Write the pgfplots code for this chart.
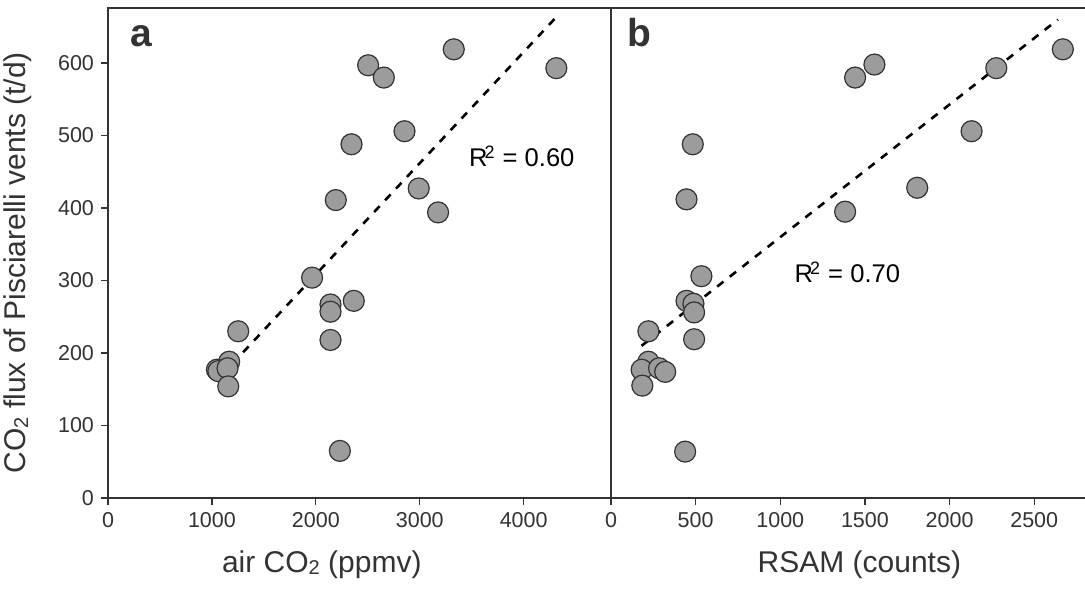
\documentclass[border=0pt]{standalone}
\usepackage{fontspec}
\setmainfont{Liberation Sans}
\usepackage{pgfplots}
\pgfplotsset{compat=1.18}

\definecolor{ink}{HTML}{333333}
\definecolor{dotfill}{HTML}{9C9C9C}
\newcommand{\two}{\raisebox{-0.15ex}{\fontsize{10}{10}\selectfont 2}}

\pgfplotsset{
  panel/.style={
    scale only axis, height=245pt, ymin=0, ymax=676,
    ytick={0,100,...,600},
    tick align=outside, major tick length=3.5pt,
    tick style={ink, line width=0.6pt},
    axis line style={ink, line width=0.8pt},
    ticklabel style={font=\fontsize{10.75}{12}\selectfont, text=ink},
    /pgf/number format/assume math mode=true,
    /pgf/number format/1000 sep={},
    label style={font=\fontsize{15}{18}\selectfont, text=ink},
    clip=false,
  },
  pts/.style={only marks, mark=*, mark size=5.25pt,
    mark options={fill=dotfill, draw=ink, line width=0.6pt}},
  fit/.style={no marks, black, line width=1.3pt, dash pattern=on 4pt off 4pt},
}
\tikzset{
  rsq/.style={anchor=base west, inner sep=0pt, text=black,
    font=\fontsize{12.8}{14}\selectfont},
  letter/.style={anchor=base west, inner sep=0pt, text=ink,
    font=\bfseries\fontsize{19.5}{20}\selectfont},
}

\begin{document}
\begin{tikzpicture}
% panel a: air CO2
\begin{axis}[panel, name=left, width=251.5pt,
  xmin=0, xmax=4840, xtick={0,1000,...,4000},
  xtick pos=bottom, ytick pos=left,
  xlabel={air CO\two{} (ppmv)},
  xlabel style={at={(axis description cs:0.425,0)}, anchor=base, yshift=-37pt},
  ylabel={CO\two{} flux of Pisciarelli vents (t/d)},
  ylabel style={at={(axis description cs:-0.137,0.48)}, anchor=south},
]
\addplot[fit] coordinates {(1300,201) (4330,666)};
\addplot[pts] coordinates {
  (2503,597) (2654,580) (3327,619) (4314,593) (2853,506)
  (2343,488) (2990,427) (3176,394) (2192,411) (1964,304)
  (2141,267) (2141,257) (2365,272) (1253,230) (2141,218)
  (1166,188) (1048,177) (1062,175) (1150,179) (1157,154)
  (2231,65)
};
\node[rsq] at (axis cs:3471,457) {R\kern-0.12em\textsuperscript{2} = 0.60};
\node[letter] at (rel axis cs:0.044,0.922) {a};
\end{axis}

% panel b: RSAM
\begin{axis}[panel, at={(left.south east)}, anchor=south west,
  name=right, width=237pt,
  xmin=0, xmax=2800, xtick={0,500,...,2500}, ytick=\empty,
  axis x line*=bottom, axis y line*=left, axis line style={-},
  xlabel={RSAM (counts)},
  xlabel style={at={(axis description cs:0.524,0)}, anchor=base, yshift=-37pt},
]
\draw[ink, line width=0.8pt] (rel axis cs:0,1) -- (rel axis cs:1,1);
\addplot[fit] coordinates {(181,210) (2640,660)};
\addplot[pts] coordinates {
  (1556,598) (1442,580) (2669,619) (2276,593) (2130,506)
  (483,488) (1809,428) (1383,395) (446,412) (534,306)
  (446,272) (487,268) (491,256) (221,230) (491,219)
  (221,188) (181,177) (284,179) (320,174) (185,155)
  (438,64)
};
\node[rsq] at (axis cs:1083,297) {R\kern-0.12em\textsuperscript{2} = 0.70};
\node[letter] at (rel axis cs:0.034,0.922) {b};
\end{axis}

\pgfresetboundingbox
\useasboundingbox ([xshift=-54pt,yshift=-45pt]left.south west)
  rectangle ([yshift=4pt]right.north east);
\end{tikzpicture}
\end{document}
